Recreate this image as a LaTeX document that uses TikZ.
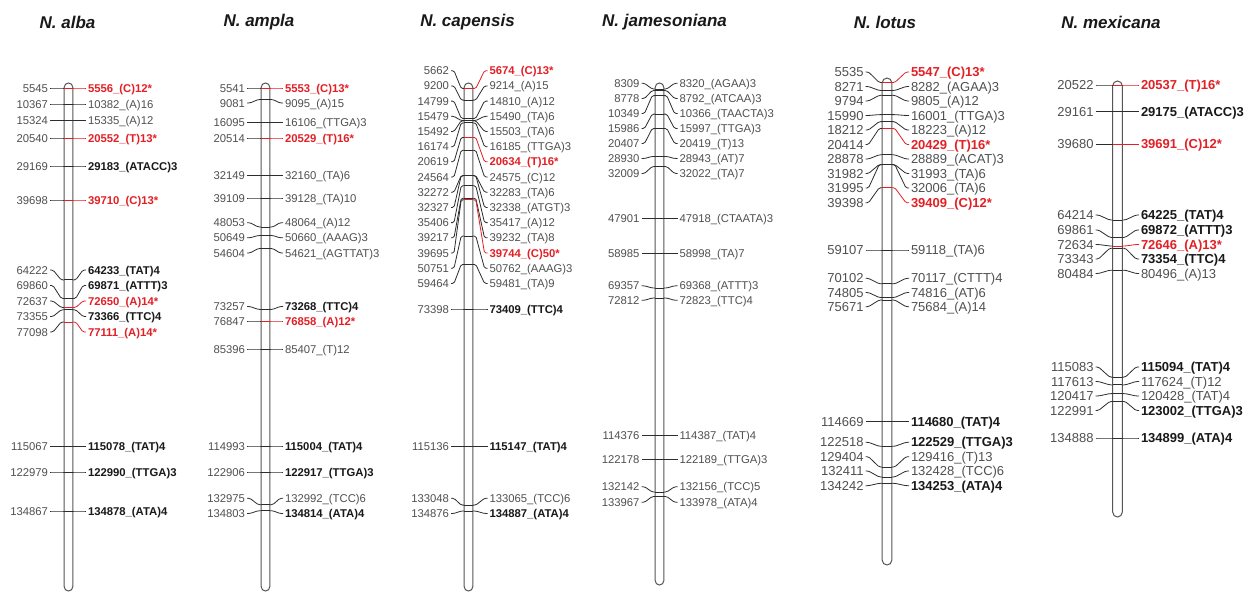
\documentclass[tikz,border=0pt]{standalone}
\usepackage{fontspec}
\setmainfont{Liberation Sans}
\definecolor{redm}{RGB}{226,32,38}
\definecolor{txtgray}{RGB}{80,80,80}
\definecolor{txtblack}{RGB}{25,25,25}
\definecolor{barline}{RGB}{85,85,85}
\definecolor{tickc}{RGB}{45,45,45}
\tikzset{
 every node/.style={inner sep=0pt,outer sep=0pt},
 smallf/.style={font=\fontsize{11.3}{13}\selectfont,text height=8.1pt,text depth=0pt},
 largef/.style={font=\fontsize{13}{15}\selectfont,text height=9.3pt,text depth=0pt},
 colfont/.style={smallf},
 numlab/.style={text=txtgray,anchor=east},
 lab n/.style={text=txtgray,anchor=west},
 lab b/.style={text=txtblack,anchor=west},
 lab r/.style={text=redm,anchor=west},
 conn/.style={draw=tickc,line width=0.8pt,rounded corners=1.5pt},
 conn n/.style={conn}, conn b/.style={conn},
 conn r/.style={draw=redm,line width=0.8pt,rounded corners=1.5pt},
 tick n/.style={draw=tickc,line width=0.9pt}, tick b/.style={tick n},
 tick r/.style={draw=redm,line width=0.9pt},
 chrom/.style={draw=barline,line width=1pt,fill=white},
 title/.style={font=\fontsize{17}{20}\selectfont\bfseries\itshape,text=txtblack}
}
\newcommand{\setcol}[4]{\def\cx{#1}\def\hw{#2}\def\numx{#3}\def\labx{#4}}
\def\fsn{}\def\fsb{\bfseries}\def\fsr{\bfseries}
\newcommand{\mk}[6]{%
 \node[colfont,numlab] (#1L) at (\numx,#3) {#4};
 \node[colfont,lab #6] (#1R) at (\labx,#3) {\csname fs#6\endcsname #5};
 \coordinate (#1a) at (\cx-\hw,#2);
 \coordinate (#1b) at (\cx+\hw,#2);
 \draw[conn] ([xshift=2pt]#1L.east) -- ++(3,0) -- ([xshift=-3pt]#1a) -- (#1a);
 \draw[tick #6] (#1a) -- (#1b);
 \draw[conn #6] (#1b) -- ([xshift=3pt]#1b) -- ([xshift=-5pt]#1R.west) -- ([xshift=-2pt]#1R.west);
}
\begin{document}
\begin{tikzpicture}[x=1pt,y=-1pt]
\useasboundingbox (0,0) rectangle (1249,594);
\fill[white] (0,0) rectangle (1249,594);
% titles
\node[title] (t1) at (67.5,22) {N. alba};
\node[title] (t2) at (259,22) {N. ampla};
\node[title] (t3) at (467.5,22) {N. capensis};
\node[title] (t4) at (664.5,22) {N. jamesoniana};
\node[title] (t5) at (885,22) {N. lotus};
\node[title] (t6) at (1111,22) {N. mexicana};
% ---------------- N. alba
\setcol{68.5}{4.3}{48}{88}
\draw[chrom,rounded corners=4.3pt] (64.2,83) rectangle (72.8,591);
\mk{a1}{88}{88}{5545}{5556\_(C)12*}{r}
\mk{a2}{104}{104}{10367}{10382\_(A)16}{n}
\mk{a3}{120.5}{120.5}{15324}{15335\_(A)12}{n}
\mk{a4}{138}{138}{20540}{20552\_(T)13*}{r}
\mk{a5}{166}{166}{29169}{29183\_(ATACC)3}{b}
\mk{a6}{200}{200}{39698}{39710\_(C)13*}{r}
\mk{a7}{279.9}{270}{64222}{64233\_(TAT)4}{b}
\mk{a8}{298.4}{285.5}{69860}{69871\_(ATTT)3}{b}
\mk{a9}{307.5}{301}{72637}{72650\_(A)14*}{r}
\mk{a10}{309.8}{316.5}{73355}{73366\_(TTC)4}{b}
\mk{a11}{322}{332}{77098}{77111\_(A)14*}{r}
\mk{a12}{446.5}{446.5}{115067}{115078\_(TAT)4}{b}
\mk{a13}{472}{472}{122979}{122990\_(TTGA)3}{b}
\mk{a14}{511}{511}{134867}{134878\_(ATA)4}{b}
% ---------------- N. ampla
\setcol{265.5}{4.3}{245}{285}
\draw[chrom,rounded corners=4.3pt] (261.2,83) rectangle (269.8,591);
\mk{b1}{88}{88}{5541}{5553\_(C)13*}{r}
\mk{b2}{99.5}{103}{9081}{9095\_(A)15}{n}
\mk{b3}{122.5}{122.5}{16095}{16106\_(TTGA)3}{n}
\mk{b4}{138}{138}{20514}{20529\_(T)16*}{r}
\mk{b5}{175.5}{175.5}{32149}{32160\_(TA)6}{n}
\mk{b6}{198}{198}{39109}{39128\_(TA)10}{n}
\mk{b7}{227}{222.7}{48053}{48064\_(A)12}{n}
\mk{b8}{235.5}{237.8}{50649}{50660\_(AAAG)3}{n}
\mk{b9}{248.5}{253}{54604}{54621\_(AGTTAT)3}{n}
\mk{b10}{309.4}{306.5}{73257}{73268\_(TTC)4}{b}
\mk{b11}{321}{321}{76847}{76858\_(A)12*}{r}
\mk{b12}{349}{349}{85396}{85407\_(T)12}{n}
\mk{b13}{446}{446}{114993}{115004\_(TAT)4}{b}
\mk{b14}{472}{472}{122906}{122917\_(TTGA)3}{b}
\mk{b15}{504.7}{498.3}{132975}{132992\_(TCC)6}{n}
\mk{b16}{510.7}{513.5}{134803}{134814\_(ATA)4}{b}
% ---------------- N. capensis
\setcol{468.5}{4.3}{449}{489.5}
\draw[chrom,rounded corners=4.3pt] (464.2,83) rectangle (472.8,591);
\mk{c1}{88.5}{70.7}{5662}{5674\_(C)13*}{r}
\mk{c2}{100.1}{85.9}{9200}{9214\_(A)15}{n}
\mk{c3}{118.4}{101.1}{14799}{14810\_(A)12}{n}
\mk{c4}{120.6}{116.3}{15479}{15490\_(TA)6}{n}
\mk{c5}{120.7}{131.5}{15492}{15503\_(TA)6}{n}
\mk{c6}{122.9}{146.7}{16174}{16185\_(TTGA)3}{n}
\mk{c7}{137.4}{161.8}{20619}{20634\_(T)16*}{r}
\mk{c8}{150.3}{177}{24564}{24575\_(C)12}{n}
\mk{c9}{175.5}{192.2}{32272}{32283\_(TA)6}{n}
\mk{c10}{175.7}{207.4}{32327}{32338\_(ATGT)3}{n}
\mk{c11}{185.8}{222.6}{35406}{35417\_(A)12}{n}
\mk{c12}{198.2}{237.8}{39217}{39232\_(TA)8}{n}
\mk{c13}{199.8}{253}{39695}{39744\_(C)50*}{r}
\mk{c14}{236}{268.2}{50751}{50762\_(AAAG)3}{n}
\mk{c15}{264.4}{283.4}{59464}{59481\_(TA)9}{n}
\mk{c16}{309}{309}{73398}{73409\_(TTC)4}{b}
\mk{c17}{446.5}{446.5}{115136}{115147\_(TAT)4}{b}
\mk{c18}{505.1}{498.3}{133048}{133065\_(TCC)6}{n}
\mk{c19}{511}{513.5}{134876}{134887\_(ATA)4}{b}
% ---------------- N. jamesoniana
\setcol{659.5}{4.3}{639.5}{679.5}
\draw[chrom,rounded corners=4.3pt] (655.2,83) rectangle (663.8,585);
\mk{d1}{89}{83.3}{8309}{8320\_(AGAA)3}{n}
\mk{d2}{90.5}{98.5}{8778}{8792\_(ATCAA)3}{n}
\mk{d3}{95.6}{113.5}{10349}{10366\_(TAACTA)3}{n}
\mk{d4}{114.1}{128.5}{15986}{15997\_(TTGA)3}{n}
\mk{d5}{128.5}{143.5}{20407}{20419\_(T)13}{n}
\mk{d6}{156.4}{158.5}{28930}{28943\_(AT)7}{n}
\mk{d7}{166.5}{173.5}{32009}{32022\_(TA)7}{n}
\mk{d8}{218.3}{218.3}{47901}{47918\_(CTAATA)3}{n}
\mk{d9}{253.5}{253.5}{58985}{58998\_(TA)7}{n}
\mk{d10}{288}{285.8}{69357}{69368\_(ATTT)3}{n}
\mk{d11}{298}{300.3}{72812}{72823\_(TTC)4}{n}
\mk{d12}{435.3}{435.3}{114376}{114387\_(TAT)4}{n}
\mk{d13}{459.5}{459.5}{122178}{122189\_(TTGA)3}{n}
\mk{d14}{492}{486.7}{132142}{132156\_(TCC)5}{n}
\mk{d15}{496.5}{502.3}{133967}{133978\_(ATA)4}{n}
% ---------------- N. lotus
\tikzset{colfont/.style={largef}}
\setcol{887}{4.8}{863.5}{911}
\draw[chrom,rounded corners=4.8pt] (882.2,78) rectangle (891.8,565);
\mk{e1}{82.5}{72}{5535}{5547\_(C)13*}{r}
\mk{e2}{90.5}{86.5}{8271}{8282\_(AGAA)3}{n}
\mk{e3}{95.3}{101}{9794}{9805\_(A)12}{n}
\mk{e4}{114.6}{115.5}{15990}{16001\_(TTGA)3}{n}
\mk{e5}{121.6}{130}{18212}{18223\_(A)12}{n}
\mk{e6}{128.4}{144.5}{20414}{20429\_(T)16*}{r}
\mk{e7}{154.8}{159}{28878}{28889\_(ACAT)3}{n}
\mk{e8}{164.5}{173.5}{31982}{31993\_(TA)6}{n}
\mk{e9}{164.6}{188}{31995}{32006\_(TA)6}{n}
\mk{e10}{187.7}{202.8}{39398}{39409\_(C)12*}{r}
\mk{e11}{250}{250}{59107}{59118\_(TA)6}{n}
\mk{e12}{283.8}{278.3}{70102}{70117\_(CTTT)4}{n}
\mk{e13}{297.5}{292.5}{74805}{74816\_(AT)6}{n}
\mk{e14}{300}{306.7}{75671}{75684\_(A)14}{n}
\mk{e15}{421.8}{421.8}{114669}{114680\_(TAT)4}{b}
\mk{e16}{446.3}{442.3}{122518}{122529\_(TTGA)3}{b}
\mk{e17}{467}{456.7}{129404}{129416\_(T)13}{n}
\mk{e18}{477}{471}{132411}{132428\_(TCC)6}{n}
\mk{e19}{483.3}{485.7}{134242}{134253\_(ATA)4}{b}
% ---------------- N. mexicana
\setcol{1117.5}{4.8}{1093.5}{1141}
\draw[chrom,rounded corners=4.8pt] (1112.7,81) rectangle (1122.3,517);
\mk{f1}{85}{85}{20522}{20537\_(T)16*}{r}
\mk{f2}{111.7}{111.7}{29161}{29175\_(ATACC)3}{b}
\mk{f3}{144.2}{144.2}{39680}{39691\_(C)12*}{r}
\mk{f4}{220}{215}{64214}{64225\_(TAT)4}{b}
\mk{f5}{237.4}{230}{69861}{69872\_(ATTT)3}{b}
\mk{f6}{246}{244.5}{72634}{72646\_(A)13*}{r}
\mk{f7}{248.2}{259}{73343}{73354\_(TTC)4}{b}
\mk{f8}{270.2}{273.5}{80484}{80496\_(A)13}{n}
\mk{f9}{377.1}{367}{115083}{115094\_(TAT)4}{b}
\mk{f10}{384.9}{381.5}{117613}{117624\_(T)12}{n}
\mk{f11}{393.6}{396}{120417}{120428\_(TAT)4}{n}
\mk{f12}{401.5}{410.5}{122991}{123002\_(TTGA)3}{b}
\mk{f13}{438}{438}{134888}{134899\_(ATA)4}{b}
\end{tikzpicture}
\end{document}
